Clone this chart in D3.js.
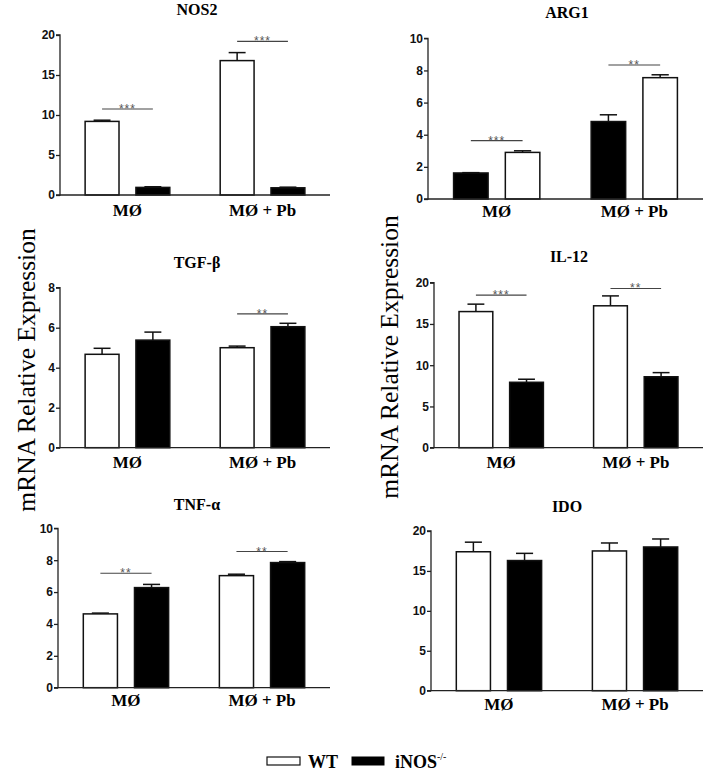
<!DOCTYPE html>
<html>
<head>
<meta charset="utf-8">
<script src="https://cdn.jsdelivr.net/npm/d3@7"></script>
<style>
  html, body { margin: 0; padding: 0; background: #fff; }
  svg { display: block; }
</style>
</head>
<body>
<svg id="chart" width="708" height="776"></svg>
<script>
// ---------------- DATA ----------------
const categories = ["MØ", "MØ + Pb"];
const genes = ["NOS2", "ARG1", "TGF-β", "IL-12", "TNF-α", "IDO"];

const nos2WT = [9.2, 16.8],  nos2WTErr = [0.15, 1.0];
const nos2KO = [0.95, 0.9],  nos2KOErr = [0.08, 0.08];

const arg1WT = [2.9, 7.55],  arg1WTErr = [0.1, 0.18];
const arg1KO = [1.62, 4.82], arg1KOErr = [0.02, 0.42];

const tgfWT = [4.67, 5.0],   tgfWTErr = [0.3, 0.08];
const tgfKO = [5.38, 6.05],  tgfKOErr = [0.4, 0.17];

const il12WT = [16.5, 17.2], il12WTErr = [0.9, 1.2];
const il12KO = [7.93, 8.6],  il12KOErr = [0.37, 0.5];

const tnfWT = [4.63, 7.03],  tnfWTErr = [0.05, 0.09];
const tnfKO = [6.28, 7.85],  tnfKOErr = [0.2, 0.06];

const idoWT = [17.4, 17.5],  idoWTErr = [1.2, 1.0];
const idoKO = [16.3, 18.0],  idoKOErr = [0.9, 1.0];

const nos2Ticks = [0, 5, 10, 15, 20];
const arg1Ticks = [0, 2, 4, 6, 8, 10];
const tgfTicks  = [0, 2, 4, 6, 8];
const il12Ticks = [0, 5, 10, 15, 20];
const tnfTicks  = [0, 2, 4, 6, 8, 10];
const idoTicks  = [0, 5, 10, 15, 20];

// significance: [category index, bracket height (data units), label]
const nos2Sig = [[0, 10.75, "***"], [1, 19.2, "***"]];
const arg1Sig = [[0, 3.63, "***"], [1, 8.34, "**"]];
const tgfSig  = [[1, 6.69, "**"]];
const il12Sig = [[0, 18.5, "***"], [1, 19.3, "**"]];
const tnfSig  = [[0, 7.18, "**"], [1, 8.54, "**"]];
const idoSig  = [];

// bar order within each group (ARG1 is drawn black first in the original)
const barOrder = [["WT","KO"], ["KO","WT"], ["WT","KO"], ["WT","KO"], ["WT","KO"], ["WT","KO"]];
const legendLabels = ["WT", "iNOS"];

const panelData = [
  {wt: nos2WT, wtErr: nos2WTErr, ko: nos2KO, koErr: nos2KOErr, ticks: nos2Ticks, sig: nos2Sig},
  {wt: arg1WT, wtErr: arg1WTErr, ko: arg1KO, koErr: arg1KOErr, ticks: arg1Ticks, sig: arg1Sig},
  {wt: tgfWT,  wtErr: tgfWTErr,  ko: tgfKO,  koErr: tgfKOErr,  ticks: tgfTicks,  sig: tgfSig},
  {wt: il12WT, wtErr: il12WTErr, ko: il12KO, koErr: il12KOErr, ticks: il12Ticks, sig: il12Sig},
  {wt: tnfWT,  wtErr: tnfWTErr,  ko: tnfKO,  koErr: tnfKOErr,  ticks: tnfTicks,  sig: tnfSig},
  {wt: idoWT,  wtErr: idoWTErr,  ko: idoKO,  koErr: idoKOErr,  ticks: idoTicks,  sig: idoSig}
];

// ---------------- LAYOUT ----------------
const layout = [
  {x0: 60,  x1: 330, yTop: 35,    yBot: 195,   titleX: 197, titleY: 15,  labY: 216},
  {x0: 428, x1: 703, yTop: 38.3,  yBot: 199,   titleX: 567, titleY: 18,  labY: 217},
  {x0: 60,  x1: 330, yTop: 287.7, yBot: 447.7, titleX: 197, titleY: 268, labY: 468},
  {x0: 434, x1: 703, yTop: 282.7, yBot: 447.7, titleX: 569, titleY: 262, labY: 468},
  {x0: 58,  x1: 330, yTop: 528.3, yBot: 687.7, titleX: 197, titleY: 510, labY: 706},
  {x0: 431, x1: 703, yTop: 531,   yBot: 690.7, titleX: 567, titleY: 512, labY: 710}
];

const svg = d3.select("#chart");
const serif = "'Liberation Serif', 'Times New Roman', serif";
const sans = "'Liberation Sans', Arial, sans-serif";
const axisColor = "#222";
const fillFor = {WT: "#fff", KO: "#000"};

panelData.forEach((p, i) => {
  const L = layout[i];
  const g = svg.append("g");
  const yMax = p.ticks[p.ticks.length - 1];
  const y = d3.scaleLinear().domain([0, yMax]).range([L.yBot, L.yTop]);
  const x = d3.scaleBand().domain(categories).range([L.x0, L.x1])
              .paddingInner(0.373).paddingOuter(0.186);
  const xs = d3.scaleBand().domain(barOrder[i]).range([0, x.bandwidth()])
               .paddingInner(0.333).paddingOuter(0);

  // title
  g.append("text").attr("x", L.titleX).attr("y", L.titleY)
    .attr("text-anchor", "middle").attr("font-family", serif)
    .attr("font-weight", "bold").attr("font-size", 16).attr("fill", "#000")
    .text(genes[i]);

  // bars
  const bars = [];
  categories.forEach((c, ci) => {
    barOrder[i].forEach(s => {
      const v = s === "WT" ? p.wt[ci] : p.ko[ci];
      const e = s === "WT" ? p.wtErr[ci] : p.koErr[ci];
      bars.push({c, s, v, e});
    });
  });

  // error bars (upper only)
  bars.forEach(b => {
    const cx = x(b.c) + xs(b.s) + xs.bandwidth() / 2;
    const capW = xs.bandwidth() / 2;
    g.append("line").attr("x1", cx).attr("x2", cx)
      .attr("y1", y(b.v)).attr("y2", y(b.v + b.e))
      .attr("stroke", "#111").attr("stroke-width", 1.5);
    g.append("line").attr("x1", cx - capW / 2).attr("x2", cx + capW / 2)
      .attr("y1", y(b.v + b.e)).attr("y2", y(b.v + b.e))
      .attr("stroke", "#111").attr("stroke-width", 1.5);
  });

  g.selectAll("rect.bar").data(bars).enter().append("rect")
    .attr("class", "bar")
    .attr("x", d => x(d.c) + xs(d.s))
    .attr("y", d => y(d.v))
    .attr("width", xs.bandwidth())
    .attr("height", d => y(0) - y(d.v))
    .attr("fill", d => fillFor[d.s])
    .attr("stroke", "#111").attr("stroke-width", 1.5);

  // significance brackets
  p.sig.forEach(([ci, h, lab]) => {
    const c = categories[ci];
    const xa = x(c) + xs(barOrder[i][0]) + xs.bandwidth() / 2;
    const xb = x(c) + xs(barOrder[i][1]) + xs.bandwidth() / 2;
    g.append("line").attr("x1", xa).attr("x2", xb)
      .attr("y1", y(h)).attr("y2", y(h))
      .attr("stroke", "#444").attr("stroke-width", 1.1);
    g.append("text").attr("x", (xa + xb) / 2).attr("y", y(h) + 4)
      .attr("text-anchor", "middle").attr("font-family", sans)
      .attr("font-size", 12).attr("letter-spacing", 1).attr("fill", "#555")
      .text(lab);
  });

  // y axis
  const yAxis = d3.axisLeft(y).tickValues(p.ticks).tickSize(4).tickPadding(1)
                  .tickFormat(d3.format("d"));
  const ya = g.append("g").attr("transform", `translate(${L.x0},0)`).call(yAxis);
  ya.select(".domain").attr("stroke", axisColor).attr("stroke-width", 1.3)
    .attr("d", `M-4,${L.yTop}H0V${L.yBot}H-4`);
  ya.selectAll(".tick line").attr("stroke", axisColor).attr("stroke-width", 1.3);
  ya.selectAll(".tick text").attr("font-family", sans).attr("font-weight", "bold")
    .attr("font-size", 12).attr("fill", "#111");

  // x axis (no ticks)
  const xAxis = d3.axisBottom(x).tickSize(0).tickPadding(0);
  const xa = g.append("g").attr("transform", `translate(0,${L.yBot})`).call(xAxis);
  xa.select(".domain").attr("stroke", axisColor).attr("stroke-width", 1.3)
    .attr("d", `M${L.x0},0H${L.x1}`);
  xa.selectAll(".tick text").attr("font-family", serif).attr("font-weight", "bold")
    .attr("font-size", 17).attr("fill", "#000")
    .attr("dy", null).attr("y", L.labY - L.yBot);
});

// y-axis titles
[[35, 370], [398, 357]].forEach(([bx, cy]) => {
  svg.append("text")
    .attr("transform", `translate(${bx},${cy}) rotate(-90)`)
    .attr("text-anchor", "middle").attr("font-family", serif)
    .attr("font-size", 25.5).attr("fill", "#000")
    .text("mRNA Relative Expression");
});

// legend
const leg = svg.append("g");
leg.append("rect").attr("x", 267).attr("y", 757).attr("width", 33).attr("height", 8)
  .attr("fill", "#fff").attr("stroke", "#111").attr("stroke-width", 1.2);
leg.append("text").attr("x", 308).attr("y", 768).attr("font-family", serif)
  .attr("font-weight", "bold").attr("font-size", 18).text(legendLabels[0]);
leg.append("rect").attr("x", 352).attr("y", 757).attr("width", 32).attr("height", 8)
  .attr("fill", "#000").attr("stroke", "#000");
const t2 = leg.append("text").attr("x", 395).attr("y", 768).attr("font-family", serif)
  .attr("font-weight", "bold").attr("font-size", 18);
t2.append("tspan").text(legendLabels[1]);
t2.append("tspan").attr("font-size", 10).attr("font-weight", "normal").attr("dy", -8).text("-/-");
</script>
</body>
</html>
